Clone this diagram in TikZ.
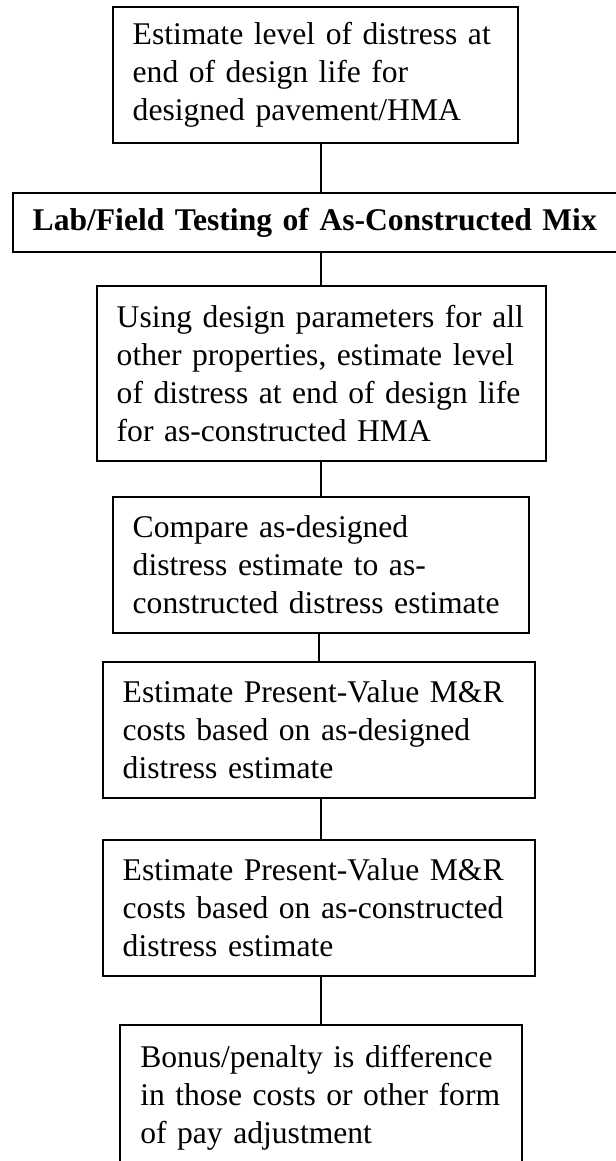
\documentclass[tikz,border=0pt]{standalone}
\usepackage{fontspec}
\setmainfont{Liberation Serif}[WordSpace=0.85]
\begin{document}
\begin{tikzpicture}[x=0.75pt,y=-0.75pt,
  box/.style={draw,line width=1.3pt,rectangle,inner xsep=15pt,inner ysep=0pt,align=left,
    font=\fontsize{23.7}{28.5}\selectfont},
  link/.style={line width=1pt}]
\useasboundingbox (0,0) rectangle (616,1161);
\clip (0,0) rectangle (616,1161);
\node[box,minimum width=303.75pt,minimum height=102.45pt,text width=273.75pt] (b1) at (315.2,75)
  {Estimate level of distress at\\end of design life for\\designed pavement/HMA};
\node[box,minimum width=462.45pt,minimum height=44.7pt,text width=432.45pt,font=\fontsize{23.7}{28.5}\selectfont\bfseries] (b2) at (321,222.5)
  {Lab/Field Testing of As-Constructed Mix};
\node[box,minimum width=336.75pt,minimum height=131.25pt,text width=306.75pt] (b3) at (321.2,373.2)
  {Using design parameters for all\\other properties, estimate level\\of distress at end of design life\\for as-constructed HMA};
\node[box,minimum width=312.45pt,minimum height=102pt,text width=282.45pt] (b4) at (321,564.7)
  {Compare as-designed\\distress estimate to as-\\constructed distress estimate};
\node[box,minimum width=324.45pt,minimum height=102.2pt,text width=294.45pt] (b5) at (319,729.85)
  {Estimate Present-Value M\&R\\costs based on as-designed\\distress estimate};
\node[box,minimum width=324.45pt,minimum height=101.8pt,text width=294.45pt] (b6) at (319,907.85)
  {Estimate Present-Value M\&R\\costs based on as-constructed\\distress estimate};
\node[box,minimum width=301.05pt,minimum height=108.75pt,text width=271.05pt] (b7) at (321,1097.5)
  {Bonus/penalty is difference\\in those costs or other form\\of pay adjustment};
\draw[link] (b2.north) -- (b2.north |- b1.south);
\draw[link] (b2.south) -- (b2.south |- b3.north);
\draw[link] (b4.north) -- (b4.north |- b3.south);
\draw[link] (b5.north) -- (b5.north |- b4.south);
\draw[link] (b6.north -| b4.north) -- (b4.north |- b5.south);
\draw[link] (b7.north) -- (b7.north |- b6.south);
\end{tikzpicture}
\end{document}
